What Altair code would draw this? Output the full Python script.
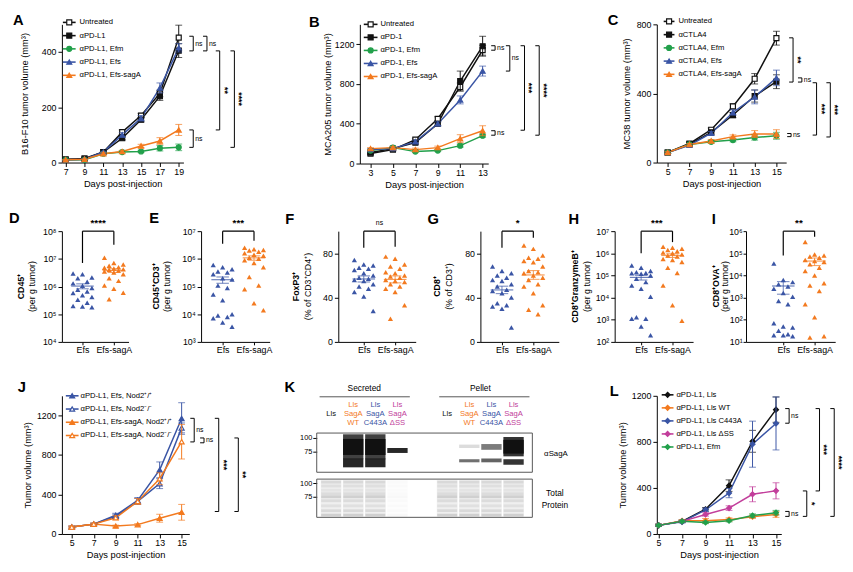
import altair as alt
import numpy as np
import pandas as pd

FONT = "Liberation Sans"
BLUE = "#3a55a5"
ORANGE = "#f37a1f"
GREEN = "#22a04b"
MAGENTA = "#c23e9b"
BLACK = "#111111"

# ============================ DATA ============================
A_days = [7, 9, 11, 13, 15, 17, 19]
A_names = ["Untreated", "αPD-L1", "αPD-L1, Efm", "αPD-L1, Efs", "αPD-L1, Efs-sagA"]
A_untreated = [12, 15, 38, 110, 170, 250, 452]
A_pdl1 = [10, 12, 38, 88, 155, 240, 405]
A_efm = [10, 10, 32, 38, 40, 52, 55]
A_efs = [10, 12, 38, 100, 160, 270, 415]
A_efs_saga = [10, 12, 32, 40, 60, 78, 118]
A_untreated_sem = [2, 2, 3, 8, 8, 12, 45]
A_pdl1_sem = [2, 2, 3, 6, 8, 15, 25]
A_efm_sem = [1, 1, 3, 4, 4, 10, 12]
A_efs_sem = [2, 2, 3, 8, 10, 18, 15]
A_efs_saga_sem = [1, 1, 3, 4, 6, 12, 20]

B_days = [3, 5, 7, 9, 11, 13]
B_names = ["Untreated", "αPD-1", "αPD-1, Efm", "αPD-1, Efs", "αPD-1, Efs-sagA"]
B_untreated = [100, 140, 240, 450, 770, 1140]
B_pd1 = [110, 150, 210, 400, 830, 1180]
B_efm = [130, 160, 120, 130, 180, 280]
B_efs = [140, 150, 220, 400, 640, 930]
B_efs_saga = [150, 160, 140, 160, 250, 330]
B_untreated_sem = [10, 10, 15, 20, 40, 50]
B_pd1_sem = [10, 10, 15, 20, 100, 100]
B_efm_sem = [10, 10, 10, 10, 15, 15]
B_efs_sem = [10, 10, 15, 20, 40, 50]
B_efs_saga_sem = [10, 10, 15, 15, 40, 50]

C_days = [5, 7, 9, 11, 13, 15]
C_names = ["Untreated", "αCTLA4", "αCTLA4, Efm", "αCTLA4, Efs", "αCTLA4, Efs-sagA"]
C_untreated = [58, 110, 190, 325, 485, 720]
C_ctla4 = [58, 105, 175, 275, 385, 468]
C_efm = [58, 105, 120, 130, 145, 155]
C_efs = [58, 100, 170, 290, 380, 490]
C_efs_saga = [58, 105, 125, 150, 165, 165]
C_untreated_sem = [5, 8, 10, 15, 30, 40]
C_ctla4_sem = [5, 8, 10, 15, 35, 40]
C_efm_sem = [5, 5, 8, 10, 15, 20]
C_efs_sem = [5, 8, 10, 15, 40, 45]
C_efs_saga_sem = [5, 5, 8, 10, 20, 25]

D_efs = [2.95e6, 2.8e6, 2.1e6, 2.0e6, 1.5e6, 1.3e6, 1.07e6, 8.9e5, 7.6e5, 6.6e5, 5.8e5, 4.8e5, 4.2e5, 3.3e5, 2.6e5, 2.0e5, 1.9e5, 1.8e5]
D_saga = [1.1e7, 7.1e6, 6.3e6, 5.6e6, 5.0e6, 4.8e6, 4.5e6, 4.2e6, 4.0e6, 3.8e6, 3.5e6, 3.2e6, 2.8e6, 2.0e6, 1.6e6, 1.1e6, 8.3e5, 6.0e5, 3.5e5]
E_efs = [6.0e5, 5.0e5, 4.2e5, 3.5e5, 3.2e5, 2.8e5, 2.0e5, 1.8e5, 1.1e5, 8.9e4, 5.2e4, 3.2e4, 1.0e4, 8.9e3, 7.9e3, 7.1e3, 5.0e3, 3.5e3]
E_saga = [2.5e6, 2.2e6, 2.1e6, 2.0e6, 1.8e6, 1.6e6, 1.4e6, 1.3e6, 1.1e6, 1.0e6, 8.9e5, 7.1e5, 5.0e5, 2.2e5, 1.1e5, 7.9e4, 2.5e4, 1.4e4]
F_efs = [74, 70, 69, 67, 66, 65, 62, 60, 58, 57, 56, 55, 52, 50, 48, 45, 41, 28]
F_saga = [77, 75, 70, 68, 66, 63, 62, 60, 59, 58, 56, 55, 54, 52, 50, 48, 45, 33, 21]
G_efs = [68, 64, 62, 60, 58, 56, 55, 52, 50, 47, 46, 44, 40, 35, 33, 32, 30, 13]
G_saga = [87, 84, 78, 76, 75, 73, 72, 68, 64, 63, 62, 60, 58, 56, 52, 50, 44, 33, 29, 25]
H_efs = [2.8e5, 2.2e5, 1.6e5, 1.4e5, 1.3e5, 1.25e5, 1.2e5, 1.0e5, 7.1e4, 5.0e4, 3.5e4, 2.5e4, 1.1e4, 1.3e3, 1.1e3, 1.1e3, 5.0e2, 2.0e2]
H_saga = [2.0e6, 1.8e6, 1.6e6, 1.4e6, 1.25e6, 1.1e6, 1.0e6, 8.9e5, 7.9e5, 7.1e5, 5.6e5, 5.0e5, 4.0e5, 2.2e5, 1.3e5, 3.5e4, 4.5e3, 9.0e2]
I_efs = [3.5e4, 6.3e3, 5.0e3, 4.0e3, 3.2e3, 2.5e3, 1.6e3, 1.1e3, 7.1e2, 5.0e2, 70, 50, 45, 32, 22, 20, 18, 20]
I_saga = [3.2e5, 8.9e4, 7.9e4, 7.1e4, 6.3e4, 5.0e4, 4.5e4, 4.0e4, 3.2e4, 2.2e4, 1.6e4, 1.0e4, 4.5e3, 3.5e3, 2.0e3, 5.0e2, 1.3e2, 18, 16]
GROUPS = ["Efs", "Efs-sagA"]

J_days = [5, 7, 9, 11, 13, 15]
J_names = ["αPD-L1, Efs, Nod2⁺/⁺", "αPD-L1, Efs, Nod2⁻/⁻", "αPD-L1, Efs-sagA, Nod2⁺/⁺", "αPD-L1, Efs-sagA, Nod2⁻/⁻"]
J_efs_wt = [70, 100, 190, 340, 650, 1170]
J_efs_ko = [70, 100, 180, 330, 510, 1075]
J_saga_wt = [70, 100, 80, 95, 160, 220]
J_saga_ko = [70, 100, 165, 330, 560, 935]
J_efs_wt_sem = [10, 10, 20, 30, 80, 160]
J_efs_ko_sem = [10, 10, 20, 30, 50, 50]
J_saga_wt_sem = [10, 10, 10, 10, 40, 80]
J_saga_ko_sem = [10, 10, 20, 30, 60, 175]

L_days = [5, 7, 9, 11, 13, 15]
L_names = ["αPD-L1, Lls", "αPD-L1, Lls WT", "αPD-L1, Lls C443A", "αPD-L1, Lls ΔSS", "αPD-L1, Efm"]
L_lls = [75, 110, 215, 420, 805, 1080]
L_wt = [75, 115, 115, 125, 150, 170]
L_c443a = [75, 105, 210, 355, 780, 960]
L_dss = [75, 110, 170, 225, 345, 375]
L_efm = [75, 110, 100, 115, 160, 185]
L_lls_sem = [10, 10, 15, 50, 95, 110]
L_wt_sem = [10, 10, 20, 15, 15, 25]
L_c443a_sem = [10, 10, 15, 40, 200, 230]
L_dss_sem = [10, 10, 15, 20, 65, 70]
L_efm_sem = [10, 10, 10, 10, 15, 20]

# Panel K (western blot): lanes 0-3 secreted, 4-7 pellet
K_line1 = ["", "Lls", "Lls", "Lls"]
K_line2 = ["Lls", "SagA", "SagA", "SagA"]
K_line3 = ["", "WT", "C443A", "ΔSS"]
K_headers = ["Secreted", "Pellet"]
K_sag_lane = [1, 1, 1, 2, 2, 2, 3, 5, 5, 6, 6, 7, 7, 7]
K_sag_top = [108, 98, 65, 108, 98, 65, 81, 87, 64, 88, 65, 102, 96, 64]
K_sag_bot = [64, 70, 54, 64, 70, 54, 73, 81, 60, 78, 60, 68, 72, 57]
K_sag_dark = [0.8, 1.0, 0.9, 0.8, 1.0, 0.9, 0.9, 0.15, 0.6, 0.55, 0.65, 0.85, 1.0, 0.85]
K_tp_mw = [102, 94, 86, 80, 75, 69, 62, 56, 51]
K_tp_dark = [0.1, 0.08, 0.05, 0.09, 0.15, 0.09, 0.07, 0.1, 0.15]
K_tp_load = [1.0, 1.0, 1.0, 0.15, 1.0, 1.0, 1.0, 1.0]

# ============================ HELPERS ============================
DUMMY = pd.DataFrame({"k": [0]})
SUP = str.maketrans("0123456789", "⁰¹²³⁴⁵⁶⁷⁸⁹")


def frame_layer(fr):
    fx0, fx1, fy0, fy1 = fr
    return alt.Chart(DUMMY).mark_rect(opacity=0).encode(
        x=alt.value(fx0), x2=alt.value(fx1), y=alt.value(fy0), y2=alt.value(fy1))


def letter_layer(t, x, y):
    return alt.Chart(DUMMY).mark_text(
        text=t, font=FONT, fontSize=15, fontWeight="bold", align="left",
        baseline="middle", color="black").encode(x=alt.value(x), y=alt.value(y))


def text_value(t, x, y, size=8.5, color="black", align="center", weight="normal", angle=0):
    return alt.Chart(DUMMY).mark_text(text=t, font=FONT, fontSize=size, color=color, align=align,
                                      baseline="middle", fontWeight=weight, angle=angle).encode(
        x=alt.value(x), y=alt.value(y))


def bracket_layers(xb, y1, y2, label, arm=4):
    ym = (y1 + y2) / 2
    rk = dict(color="black", strokeWidth=1)
    out = [
        alt.Chart(DUMMY).mark_rule(**rk).encode(x=alt.value(xb), y=alt.datum(y1), y2=alt.datum(y2)),
        alt.Chart(DUMMY).mark_rule(**rk).encode(x=alt.value(xb - arm), x2=alt.value(xb), y=alt.datum(y1)),
        alt.Chart(DUMMY).mark_rule(**rk).encode(x=alt.value(xb - arm), x2=alt.value(xb), y=alt.datum(y2)),
    ]
    if label == "ns":
        out.append(alt.Chart(DUMMY).mark_text(text="ns", font=FONT, fontSize=7, align="left", color="black",
                                              baseline="middle").encode(x=alt.value(xb + 2), y=alt.datum(ym)))
    else:
        out.append(alt.Chart(DUMMY).mark_text(text=label, font=FONT, fontSize=9, fontWeight="bold", color="black",
                                              angle=90, align="center", baseline="middle").encode(
            x=alt.value(xb + 5), y=alt.datum(ym)))
    return out


def line_panel(days, names, means, sems, styles, xdom, ymax, ystep, w, h, ytitle, ytx,
               letter, lxy, leg, brackets, frame):
    xsc = alt.Scale(domain=xdom, nice=False, zero=False)
    xax = alt.Axis(values=days, title="Days post-injection", format="d", labelPadding=1, titlePadding=2)
    ysc = alt.Scale(domain=[0, ymax], nice=False, zero=True)
    yax = alt.Axis(values=list(range(0, ymax + 1, ystep)), format="d", title=ytitle, titleX=ytx,
                   titleY=h / 2, titleAngle=270, titleAlign="center", titleBaseline="middle")

    def X(f="day"):
        return alt.X(f + ":Q", scale=xsc, axis=xax)

    def Y(f):
        return alt.Y(f + ":Q", scale=ysc, axis=yax)

    layers = [frame_layer(frame)]
    charts = []
    for nm, m, s, st in zip(names, means, sems, styles):
        df = pd.DataFrame({"day": days, "v": m,
                           "lo": [a - b for a, b in zip(m, s)], "hi": [a + b for a, b in zip(m, s)]})
        charts.append((alt.Chart(df), st))
    for c, st in charts:
        layers.append(c.mark_line(color=st[0], strokeWidth=1.5).encode(x=X(), y=Y("v")))
    for c, st in charts:
        layers.append(c.mark_rule(color=st[0], strokeWidth=1).encode(x=X(), y=Y("lo"), y2="hi:Q"))
        layers.append(c.mark_tick(color=st[0], orient="horizontal", size=7, thickness=1).encode(x=X(), y=Y("hi")))
        layers.append(c.mark_tick(color=st[0], orient="horizontal", size=7, thickness=1).encode(x=X(), y=Y("lo")))
        fill = st[0] if st[2] else "white"
        layers.append(c.mark_point(shape=st[1], size=26, filled=True, fill=fill, stroke=st[0],
                                   strokeWidth=1.2, opacity=1).encode(x=X(), y=Y("v")))
    y0, dy, lx0, lx1, lxc, ltx = leg
    for i, (nm, st) in enumerate(zip(names, styles)):
        yy = y0 + i * dy
        fill = st[0] if st[2] else "white"
        layers.append(alt.Chart(DUMMY).mark_rule(color=st[0], strokeWidth=1.6).encode(
            x=alt.value(lx0), x2=alt.value(lx1), y=alt.value(yy)))
        layers.append(alt.Chart(DUMMY).mark_point(shape=st[1], size=26, filled=True, fill=fill,
                                                  stroke=st[0], strokeWidth=1.2, opacity=1).encode(
            x=alt.value(lxc), y=alt.value(yy)))
        layers.append(text_value(nm, ltx, yy, size=7.8, align="left"))
    for b in brackets:
        layers += bracket_layers(*b)
    layers.append(letter_layer(letter, *lxy))
    return alt.layer(*layers).properties(width=w, height=h)


def log_label_expr():
    parts = []
    for e in range(0, 10):
        parts.append(f"round(log(datum.value)/LN10) == {e} ? '10{str(e).translate(SUP)}'")
    return " : ".join(parts) + " : ''"


P = [-0.3, 0.0, 0.3, -0.15, 0.15]


def scatter_panel(efs, sag, log, ydom, yticks, w, o, h, t1, t2, t1x, t2x, letter, lxy,
                  stars, legs, frame, lab_pad=2, tick=4):
    step = 32.0
    xsc = alt.Scale(domain=[-o / step, (w - o) / step], nice=False, zero=False)
    xax = alt.Axis(values=[0, 1], title=None, labelExpr="datum.value == 0 ? 'Efs' : 'Efs-sagA'",
                   tickSize=3, labelFontSize=9, labelPadding=1)
    if log:
        ysc = alt.Scale(type="log", domain=ydom, nice=False)
        yax = alt.Axis(values=yticks, title=None, labelExpr=log_label_expr(), labelPadding=lab_pad,
                       tickSize=tick)
    else:
        ysc = alt.Scale(domain=ydom, nice=False)
        yax = alt.Axis(values=yticks, title=None, labelPadding=lab_pad, tickSize=tick)

    def X(f):
        return alt.X(f + ":Q", scale=xsc, axis=xax)

    def Y(f):
        return alt.Y(f + ":Q", scale=ysc, axis=yax)

    layers = [frame_layer(frame)]
    for cat, vals, colr in [(0, efs, BLUE), (1, sag, ORANGE)]:
        order = np.argsort(-np.array(vals, dtype=float), kind="stable")
        df = pd.DataFrame({"v": [vals[i] for i in order],
                           "xj": [cat + P[r % len(P)] for r in range(len(order))]})
        layers.append(alt.Chart(df).mark_point(shape="triangle-up", filled=True, size=28, opacity=1,
                                               color=colr).encode(x=X("xj"), y=Y("v")))
    for cat, vals, colr in [(0, efs, BLUE), (1, sag, ORANGE)]:
        a = np.array(vals, dtype=float)
        m = a.mean()
        se = a.std(ddof=1) / np.sqrt(len(a))
        sdf = pd.DataFrame({"c": [cat], "m": [m], "lo": [m - se], "hi": [m + se],
                            "ml": [cat - 0.36], "mr": [cat + 0.36], "sl": [cat - 0.2], "sr": [cat + 0.2]})
        sb = alt.Chart(sdf)
        layers.append(sb.mark_rule(color=colr, strokeWidth=1.2, opacity=0.75).encode(x=X("ml"), x2="mr:Q", y=Y("m")))
        layers.append(sb.mark_rule(color=colr, strokeWidth=1, opacity=0.75).encode(x=X("c"), y=Y("lo"), y2="hi:Q"))
        layers.append(sb.mark_rule(color=colr, strokeWidth=1, opacity=0.75).encode(x=X("sl"), x2="sr:Q", y=Y("lo")))
        layers.append(sb.mark_rule(color=colr, strokeWidth=1, opacity=0.75).encode(x=X("sl"), x2="sr:Q", y=Y("hi")))
    top = ydom[1]
    rk = dict(color="black", strokeWidth=1.2)
    layers.append(alt.Chart(DUMMY).mark_rule(**rk).encode(x=alt.datum(0), x2=alt.datum(1), y=alt.datum(top)))
    layers.append(alt.Chart(DUMMY).mark_rule(**rk).encode(x=alt.datum(0), y=alt.datum(top), y2=alt.datum(legs[0])))
    layers.append(alt.Chart(DUMMY).mark_rule(**rk).encode(x=alt.datum(1), y=alt.datum(top), y2=alt.datum(legs[1])))
    if stars == "ns":
        layers.append(alt.Chart(DUMMY).mark_text(text="ns", font=FONT, fontSize=7, dy=-8, color="black").encode(
            x=alt.datum(0.5), y=alt.datum(top)))
    else:
        layers.append(alt.Chart(DUMMY).mark_text(text=stars, font=FONT, fontSize=10, fontWeight="bold",
                                                 color="black", dy=-8).encode(x=alt.datum(0.5), y=alt.datum(top)))
    layers.append(text_value(t1, t1x, h / 2, size=9, weight="bold", angle=270))
    layers.append(text_value(t2, t2x, h / 2, size=9, angle=270))
    layers.append(letter_layer(letter, *lxy))
    return alt.layer(*layers).properties(width=w, height=h)


def flow(charts, cols):
    return alt.concat(*charts, columns=cols, spacing=0, align="none", bounds="full")


# ============================ TOP ROW ============================
A_styles = [(BLACK, "square", False), (BLACK, "square", True), (GREEN, "circle", True),
            (BLUE, "triangle-up", True), (ORANGE, "triangle-up", True)]
TOP_FY = (-11, 172)

pA = line_panel(A_days, A_names,
                [A_untreated, A_pdl1, A_efm, A_efs, A_efs_saga],
                [A_untreated_sem, A_pdl1_sem, A_efm_sem, A_efs_sem, A_efs_saga_sem],
                A_styles, [6.6, 19.5], 500, 100, 124, 141, "B16-F10 tumor volume (mm³)", -38,
                "A", (-50, -4), (-2, 13.5, 1, 14, 7.5, 18),
                [(134, 457, 404, "ns"), (148, 457, 404, "ns"), (161, 404, 118, "**"),
                 (176, 404, 55, "****"), (134, 118, 55, "ns")],
                (-51, 229) + TOP_FY)

pB = line_panel(B_days, B_names,
                [B_untreated, B_pd1, B_efm, B_efs, B_efs_saga],
                [B_untreated_sem, B_pd1_sem, B_efm_sem, B_efs_sem, B_efs_saga_sem],
                A_styles, [2.05, 13.5], 1400, 200, 131, 142, "MCA205 tumor volume (mm³)", -33,
                "B", (-52, -2), (0, 13.3, 4, 18, 11, 21),
                [(138, 1185, 1140, "ns"), (153, 1185, 930, "ns"), (168, 1185, 335, "***"),
                 (183, 1185, 285, "****"), (138, 330, 285, "ns")],
                (-75, 207) + TOP_FY)

pC = line_panel(C_days, C_names,
                [C_untreated, C_ctla4, C_efm, C_efs, C_efs_saga],
                [C_untreated_sem, C_ctla4_sem, C_efm_sem, C_efs_sem, C_efs_saga_sem],
                A_styles, [4.0, 15.9], 800, 100, 132, 141, "MC38 tumor volume (mm³)", -31,
                "C", (-50, -4), (-3, 13.5, 7, 18, 12.5, 22),
                [(139, 722, 466, "**"), (148, 490, 466, "ns"), (163, 462, 159, "***"),
                 (177, 462, 148, "***"), (137, 168, 150, "ns")],
                (-96, 187) + TOP_FY)

top_row = flow([pA, pB, pC], 3)

# ============================ MIDDLE ROW ============================
LOGT = lambda a, b: [10.0 ** e for e in range(a, b + 1)]
MID_H = 113
pD = scatter_panel(D_efs, D_saga, True, [1e4, 1e8], LOGT(4, 8), 68, 21, MID_H, "CD45⁺", "(per g tumor)",
                   -42, -30, "D", (-54, -13), "****", [7.1e6, 3.2e7], (-55, 88, -39, 131))
pE = scatter_panel(E_efs, E_saga, True, [1e3, 1e7], LOGT(3, 7), 70, 22, MID_H, "CD45⁺CD3⁺", "(per g tumor)",
                   -46, -35, "E", (-53, -13), "***", [3.5e6, 4.5e6], (-54, 85, -39, 131))
pF = scatter_panel(F_efs, F_saga, False, [0, 100], list(range(0, 101, 20)), 79, 26, MID_H, "FoxP3⁺",
                   "(% of CD3⁺CD4⁺)", -43, -31, "F", (-54, -12), "ns", [85, 86], (-55, 90, -39, 131))
pG = scatter_panel(G_efs, G_saga, False, [0, 100], list(range(0, 101, 20)), 80, 22, MID_H, "CD8⁺",
                   "(% of CD3⁺)", -44, -32, "G", (-54, -12), "*", [85, 94], (-55, 89, -39, 131))
pH = scatter_panel(H_efs, H_saga, True, [1e2, 1e7], LOGT(2, 7), 80, 27, MID_H, "CD8⁺GranzymeB⁺",
                   "(per g tumor)", -40, -28, "H", (-47, -12), "***", [1e6, 3.2e6], (-48, 97, -39, 131))
pI = scatter_panel(I_efs, I_saga, True, [1e1, 1e6], LOGT(1, 6), 91, 38, MID_H, "CD8⁺OVA⁺",
                   "(per g tumor)", -31, -21, "I", (-35, -12), "**", [8e4, 5.6e5], (-37, 92, -39, 131),
                   lab_pad=1, tick=3)
mid_row = flow([pD, pE, pF, pG, pH, pI], 6)

# ============================ BOTTOM ROW ============================
BOT_FY0 = -37
J_styles = [(BLUE, "triangle-up", True), (BLUE, "triangle-up", False),
            (ORANGE, "triangle-up", True), (ORANGE, "triangle-up", False)]
pJ = line_panel(J_days, J_names,
                [J_efs_wt, J_efs_ko, J_saga_wt, J_saga_ko],
                [J_efs_wt_sem, J_efs_ko_sem, J_saga_wt_sem, J_saga_ko_sem],
                J_styles, [4.1, 15.7], 1400, 200, 130, 141, "Tumor volume (mm³)", -35,
                "J", (-45, -9), (0, 13.5, 4, 17, 10.5, 19),
                [(135, 1172, 933, "ns"), (145, 973, 924, "ns"), (160, 1172, 228, "***"),
                 (180, 973, 228, "**")],
                (-46, 224, BOT_FY0, 169))

L_styles = [(BLACK, "diamond", True), (ORANGE, "diamond", True), (BLUE, "diamond", True),
            (MAGENTA, "diamond", True), (GREEN, "diamond", True)]
pL = line_panel(L_days, L_names,
                [L_lls, L_wt, L_c443a, L_dss, L_efm],
                [L_lls_sem, L_wt_sem, L_c443a_sem, L_dss_sem, L_efm_sem],
                L_styles, [4.85, 15.45], 1200, 200, 127, 141, "Tumor volume (mm³)", -35,
                "L", (-48, -5), (-1, 13.3, 5, 17, 11, 20),
                [(135, 1089, 962, "ns"), (153, 374, 153, "*"), (166, 1089, 374, "***"),
                 (181, 1089, 153, "****"), (135, 196, 153, "ns")],
                (-53, 192, BOT_FY0, 170))

# ---- Panel K (blot) ----
K_W = 220
K_UP_H = 78      # header area (38 px) + blot box (40 px)
BOX0 = 38


def lane_pos(i):
    return 0.65 + i if i < 4 else 5.9 + (i - 4)


kx = alt.Scale(domain=[0, 9.75], nice=False, zero=False)
kop = alt.Scale(domain=[0, 1], range=[0, 1])
kax = alt.Axis(values=[100, 75], format="d", domain=False, title=None, tickSize=4, labelFontSize=7.5,
               labelPadding=1)
ky_up = alt.Scale(type="log", domain=[48.7, 242.0], nice=False)
ky_lo = alt.Scale(type="log", domain=[48.7, 108.6], nice=False)

sag_df = pd.DataFrame({
    "x0": [lane_pos(i) - 0.46 for i in K_sag_lane],
    "x1": [lane_pos(i) + 0.46 for i in K_sag_lane],
    "top": K_sag_top, "bot": K_sag_bot, "dark": K_sag_dark})
hdr_df = pd.DataFrame({"x": [(lane_pos(0) + lane_pos(3)) / 2, (lane_pos(4) + lane_pos(7)) / 2],
                       "t": K_headers,
                       "x0": [lane_pos(0) - 0.52, lane_pos(4) - 0.36],
                       "x1": [lane_pos(3) + 0.56, lane_pos(7) + 0.72]})

k_up_layers = [
    frame_layer((-36, 294, BOT_FY0, 79)),
    alt.Chart(sag_df).mark_rect(color="#111111").encode(
        x=alt.X("x0:Q", scale=kx, axis=None), x2="x1:Q",
        y=alt.Y("top:Q", scale=ky_up, axis=kax), y2="bot:Q",
        opacity=alt.Opacity("dark:Q", scale=kop, legend=None)),
    alt.Chart(DUMMY).mark_rect(fillOpacity=0, stroke="#555555", strokeWidth=1).encode(
        x=alt.value(0), x2=alt.value(K_W), y=alt.value(BOX0), y2=alt.value(K_UP_H)),
    alt.Chart(hdr_df).mark_text(font=FONT, fontSize=8.5, color="black", baseline="middle").encode(
        x=alt.X("x:Q", scale=kx, axis=None), y=alt.value(BOX0 - 46), text="t:N"),
    alt.Chart(hdr_df).mark_rule(color="#555555", strokeWidth=1).encode(
        x=alt.X("x0:Q", scale=kx, axis=None), x2="x1:Q", y=alt.value(BOX0 - 37)),
]
for ci, colr in enumerate([BLACK, ORANGE, BLUE, MAGENTA]):
    for line, ry in [(K_line1, BOX0 - 29), (K_line2, BOX0 - 19.5), (K_line3, BOX0 - 10)]:
        if not line[ci]:
            continue
        ldf = pd.DataFrame({"pos": [lane_pos(ci), lane_pos(ci + 4)], "label": [line[ci], line[ci]]})
        k_up_layers.append(alt.Chart(ldf).mark_text(font=FONT, fontSize=7.8, baseline="middle",
                                                    color=colr).encode(
            x=alt.X("pos:Q", scale=kx, axis=None), y=alt.value(ry), text="label:N"))
k_up_layers.append(text_value("αSagA", 232, BOX0 + 21, size=8, align="left"))
k_up_layers.append(letter_layer("K", -33, BOX0 - 47))
pK_up = alt.layer(*k_up_layers).properties(width=K_W, height=K_UP_H)

tp_rows = []
for li in range(8):
    for mw, dk in zip(K_tp_mw, K_tp_dark):
        tp_rows.append({"x0": lane_pos(li) - 0.45, "x1": lane_pos(li) + 0.45,
                        "top": mw * 1.03, "bot": mw / 1.03, "dark": dk * K_tp_load[li]})
tp_df = pd.DataFrame(tp_rows)
lane_bg = pd.DataFrame({"x0": [lane_pos(i) - 0.47 for i in range(8)],
                        "x1": [lane_pos(i) + 0.47 for i in range(8)],
                        "dark": [0.08 * l for l in K_tp_load]})
k_lo_layers = [
    frame_layer((-36, 294, -6, 84)),
    alt.Chart(lane_bg).mark_rect(color="#333333").encode(
        x=alt.X("x0:Q", scale=kx, axis=None), x2="x1:Q",
        y=alt.value(1), y2=alt.value(38), opacity=alt.Opacity("dark:Q", scale=kop, legend=None)),
    alt.Chart(tp_df).mark_rect(color="#222222").encode(
        x=alt.X("x0:Q", scale=kx, axis=None), x2="x1:Q",
        y=alt.Y("top:Q", scale=ky_lo, axis=kax), y2="bot:Q",
        opacity=alt.Opacity("dark:Q", scale=kop, legend=None)),
    alt.Chart(DUMMY).mark_rect(fillOpacity=0, stroke="#555555", strokeWidth=1).encode(
        x=alt.value(0), x2=alt.value(K_W), y=alt.value(0), y2=alt.value(39)),
    text_value("Total", 243, 14),
    text_value("Protein", 243, 26),
]
pK_lo = alt.layer(*k_lo_layers).properties(width=K_W, height=39)
pK = flow([pK_up, pK_lo], 1)

bot_row = flow([pJ, pK, pL], 3)

chart = flow([top_row, mid_row, bot_row], 1).properties(padding=0).configure_axis(
    labelFont=FONT, titleFont=FONT, labelFontSize=9, titleFontSize=9.5, titleFontWeight="normal",
    labelColor="black", titleColor="black", domainColor="black", tickColor="black",
    grid=False, tickSize=4, labelFlush=False, labelOverlap=False, labelPadding=2,
    domainWidth=1, tickWidth=1
).configure_view(stroke=None).configure_text(font=FONT)

chart.save("out.html", embed_options={"renderer": "svg", "actions": False})
